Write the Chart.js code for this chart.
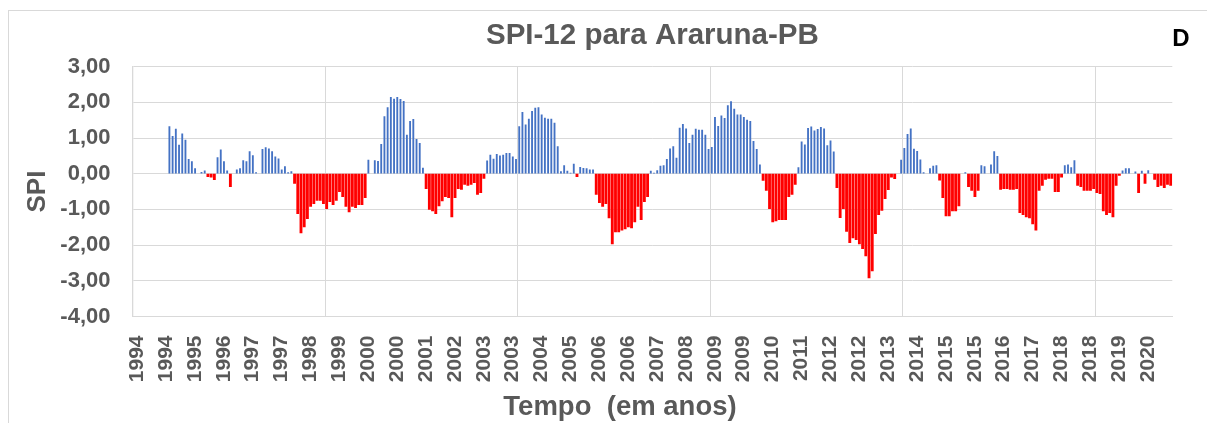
<!DOCTYPE html>
<html>
<head>
<meta charset="utf-8">
<script src="https://cdn.jsdelivr.net/npm/chart.js@4.4.1/dist/chart.umd.min.js"></script>
<style>
html,body{margin:0;padding:0;background:#fff;overflow:hidden;}
#wrap{position:relative;width:1207px;height:423px;overflow:hidden;}
#frame{position:absolute;left:8px;top:10px;width:1300px;height:500px;border:1px solid #d9d9d9;box-sizing:border-box;pointer-events:none;}
#c{position:absolute;left:0;top:0;}
.lbl{position:absolute;font-family:"Liberation Sans",Arial,sans-serif;font-weight:bold;white-space:nowrap;line-height:32px;height:32px;}
#xt{left:420px;width:400px;top:390px;text-align:center;font-size:27.5px;color:#595959;}
#dl{left:1161px;width:40px;top:22px;text-align:center;font-size:24px;color:#000;}
</style>
</head>
<body>
<div id="wrap">
<div id="frame"></div>
<canvas id="c" width="1207" height="423"></canvas>
<div class="lbl" id="xt">Tempo&nbsp; (em anos)</div>
<div class="lbl" id="dl">D</div>
</div>
<script>
// ---- data ----
const years = [1994,1995,1996,1997,1998,1999,2000,2001,2002,2003,2004,2005,2006,2007,2008,2009,2010,2011,2012,2013,2014,2015,2016,2017,2018,2019,2020];
const xTickLabels = ['1994','1994','1995','1996','1997','1997','1998','1999','2000','2000','2001','2002','2003','2003','2004','2005','2006','2006','2007','2008','2009','2009','2010','2011','2012','2012','2013','2014','2015','2015','2016','2017','2018','2018','2019','2020'];
const yTickValues = [3,2,1,0,-1,-2,-3,-4];
const yTickLabels = ['3,00','2,00','1,00','0,00','-1,00','-2,00','-3,00','-4,00'];
const spi1994 = [null,null,null,null,null,null,null,null,null,null,null,1.32];
const spi1995 = [1.05,1.25,0.80,1.12,0.94,0.40,0.34,0.14,0.00,0.04,0.08,-0.08];
const spi1996 = [-0.10,-0.17,0.45,0.67,0.34,0.08,-0.36,0.00,0.11,0.14,0.37,0.34];
const spi1997 = [0.62,0.51,0.03,0.00,0.68,0.73,0.70,0.62,0.47,0.42,0.11,0.20];
const spi1998 = [0.03,0.06,-0.27,-1.12,-1.66,-1.49,-1.26,-0.92,-0.84,-0.75,-0.75,-0.84];
const spi1999 = [-0.98,-0.78,-0.87,-0.75,-0.50,-0.64,-0.92,-1.07,-0.92,-0.95,-0.87,-0.87];
const spi2000 = [-0.67,0.38,0.00,0.37,0.35,0.82,1.60,1.85,2.14,2.09,2.14,2.08];
const spi2001 = [2.03,1.08,1.47,1.52,0.96,0.85,0.16,-0.42,-1.00,-1.04,-1.12,-0.90];
const spi2002 = [-0.76,-0.64,-0.67,-1.21,-0.67,-0.42,-0.44,-0.30,-0.33,-0.30,-0.25,-0.58];
const spi2003 = [-0.53,-0.13,0.36,0.52,0.41,0.54,0.50,0.52,0.57,0.57,0.47,0.40];
const spi2004 = [1.32,1.72,1.37,1.53,1.75,1.84,1.85,1.65,1.56,1.53,1.53,1.42];
const spi2005 = [0.76,0.06,0.23,0.07,0.02,0.27,-0.08,0.18,0.15,0.14,0.11,0.11];
const spi2006 = [-0.58,-0.81,-0.92,-0.84,-1.24,-1.97,-1.63,-1.63,-1.58,-1.55,-1.49,-1.52];
const spi2007 = [-1.35,-0.92,-1.29,-0.78,-0.64,0.07,0.02,0.09,0.21,0.23,0.40,0.70];
const spi2008 = [0.76,0.44,1.28,1.38,1.26,0.85,1.08,1.25,1.22,1.22,1.08,0.68];
const spi2009 = [0.74,1.58,1.33,1.62,1.55,1.91,2.02,1.81,1.65,1.65,1.58,1.50];
const spi2010 = [1.47,0.91,0.68,0.25,-0.19,-0.47,-0.98,-1.35,-1.32,-1.29,-1.29,-1.29];
const spi2011 = [-0.64,-0.58,-0.30,0.17,0.89,0.81,1.27,1.31,1.20,1.24,1.30,1.26];
const spi2012 = [0.79,0.92,0.61,-0.39,-1.23,-0.98,-1.62,-1.93,-1.80,-1.85,-1.97,-2.10];
const spi2013 = [-2.30,-2.92,-2.72,-1.68,-1.15,-1.03,-0.70,-0.45,-0.10,-0.14,0.00,0.38];
const spi2014 = [0.71,1.10,1.26,0.69,0.63,0.39,0.03,0.00,0.14,0.21,0.23,-0.18];
const spi2015 = [-0.67,-1.18,-1.18,-1.04,-1.04,-0.90,0.00,0.03,-0.36,-0.47,-0.64,-0.47];
const spi2016 = [0.23,0.20,0.00,0.25,0.62,0.49,-0.44,-0.42,-0.42,-0.44,-0.44,-0.42];
const spi2017 = [-1.09,-1.15,-1.21,-1.24,-1.41,-1.58,-0.47,-0.33,-0.16,-0.13,-0.13,-0.50];
const spi2018 = [-0.50,-0.10,0.23,0.25,0.17,0.37,-0.33,-0.36,-0.47,-0.47,-0.47,-0.42];
const spi2019 = [-0.53,-0.56,-1.04,-1.15,-1.09,-1.21,-0.33,-0.05,0.08,0.14,0.14,0.00];
const spi2020 = [0.05,-0.53,0.07,-0.27,0.09,0.00,-0.16,-0.36,-0.33,-0.39,-0.30,-0.33];

// ---- tables built from the arrays ----
const spi = [].concat(spi1994,spi1995,spi1996,spi1997,spi1998,spi1999,spi2000,spi2001,spi2002,spi2003,spi2004,spi2005,spi2006,spi2007,spi2008,spi2009,spi2010,spi2011,spi2012,spi2013,spi2014,spi2015,spi2016,spi2017,spi2018,spi2019,spi2020);
const categories = [];
years.forEach(y => { for (let m = 0; m < 12; m++) categories.push(String(y)); });
const positive = spi.map(v => (v !== null && v > 0) ? v : null);
const negative = spi.map(v => (v !== null && v < 0) ? v : null);

const FONT = '"Liberation Sans", Arial, sans-serif';
const GRID = '#d9d9d9';
const TXT = '#595959';

new Chart(document.getElementById('c'), {
  type: 'bar',
  data: {
    labels: categories,
    datasets: [
      { label: 'SPI +', data: positive, backgroundColor: '#4472c4', barThickness: 1.2 },
      { label: 'SPI -', data: negative, backgroundColor: '#ff0000', barThickness: 2.2 }
    ]
  },
  options: {
    responsive: false,
    animation: false,
    layout: { padding: { left: 0, right: 34.7, top: 0, bottom: 0 } },
    plugins: {
      legend: { display: false },
      tooltip: { enabled: false },
      title: {
        display: true,
        fullSize: false,
        text: 'SPI-12 para Araruna-PB',
        color: TXT,
        font: { family: FONT, size: 29.5, weight: 'bold', lineHeight: 1.2 },
        padding: { top: 18, bottom: 13.2 }
      }
    },
    scales: {
      x: {
        stacked: true,
        grid: {
          offset: true,
          drawTicks: false,
          lineWidth: 1,
          color: ctx => (ctx.index > 0 && ctx.index % 60 === 0) ? GRID : 'rgba(0,0,0,0)'
        },
        border: { display: true, color: GRID, width: 1 },
        ticks: {
          autoSkip: false,
          maxRotation: 90,
          minRotation: 90,
          padding: 19,
          labelOffset: 3,
          color: TXT,
          font: { family: FONT, size: 21, weight: 'bold' },
          callback: (val, idx) => (idx % 9 === 0 && xTickLabels[idx / 9] !== undefined) ? xTickLabels[idx / 9] : ''
        },
        afterFit: s => { s.height = 106.5; s.paddingLeft = 0; s.paddingRight = 0; }
      },
      y: {
        stacked: true,
        min: -4,
        max: 3,
        afterBuildTicks: s => { s.ticks = yTickValues.map(v => ({ value: v })); },
        grid: { color: GRID, lineWidth: 1, drawTicks: false },
        border: { display: true, color: GRID, width: 1.3 },
        ticks: {
          padding: 22,
          color: TXT,
          font: { family: FONT, size: 22, weight: 'bold' },
          callback: v => yTickLabels[yTickValues.indexOf(v)]
        },
        title: {
          display: true,
          text: 'SPI',
          color: TXT,
          font: { family: FONT, size: 26, weight: 'bold', lineHeight: 1.2 },
          padding: { top: 22, bottom: 0 }
        },
        afterFit: s => { s.width = 132.5; s.paddingTop = 0; s.paddingBottom = 0; }
      }
    }
  }
});
</script>
</body>
</html>
